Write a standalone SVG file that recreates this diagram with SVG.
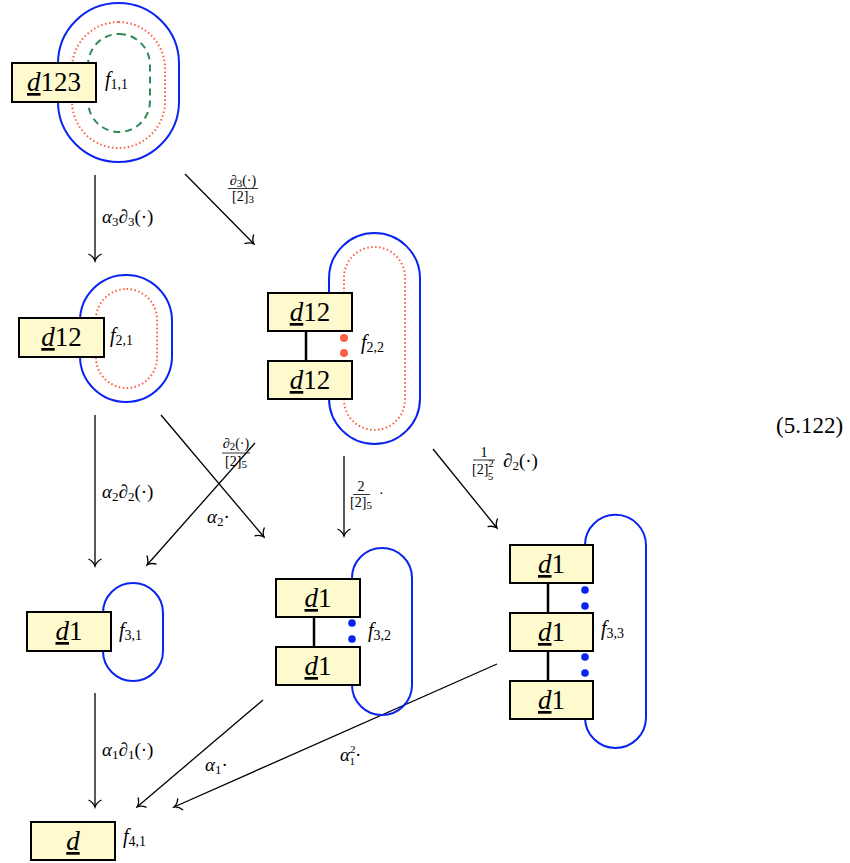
<svg xmlns="http://www.w3.org/2000/svg" width="850" height="863" viewBox="0 0 850 863">
<style>
text{font-family:"Liberation Serif","Times New Roman","DejaVu Serif",serif;fill:#000}
.box{fill:#fffacd;stroke:#000;stroke-width:2}
.bt{font-size:27px;text-anchor:middle}
.it{font-style:italic}
.ul{text-decoration:underline}
.blue{fill:none;stroke:#0a24f0;stroke-width:2}
.red{fill:none;stroke:#fa6046;stroke-width:2;stroke-dasharray:1.5 2.5}
.green{fill:none;stroke:#2e8b57;stroke-width:2;stroke-dasharray:7 5}
.lbl{font-size:20px}
.al{font-size:19px}
.fr{font-size:14px}
.sub{font-size:14px}
.fs{font-size:13px}
.fss{font-size:11px}
.arr{stroke:#000;stroke-width:1.3;fill:none;marker-end:url(#ah)}
.link{stroke:#000;stroke-width:2.5}
.rdot{fill:#fa6046}
.bdot{fill:#0a24f0}
</style>
<defs>
<marker id="ah" viewBox="-10 -8 12 16" refX="0" refY="0" markerWidth="12" markerHeight="16" orient="auto" markerUnits="userSpaceOnUse">
<path d="M-7,-6.5 C-5,-2.5 -2,-0.6 0,0 C-2,0.6 -5,2.5 -7,6.5" fill="none" stroke="#000" stroke-width="1.3"/>
</marker>
</defs>

<g id="connectors">
<line class="arr" x1="95" y1="175" x2="95" y2="261"/>
<line class="arr" x1="185" y1="174" x2="254" y2="244"/>
<line class="arr" x1="95" y1="415" x2="95" y2="566"/>
<line class="arr" x1="161" y1="415" x2="264" y2="537"/>
<line class="arr" x1="255" y1="443" x2="147" y2="565"/>
<line class="arr" x1="344" y1="456" x2="344" y2="536"/>
<line class="arr" x1="433" y1="449" x2="497" y2="528"/>
<line class="arr" x1="95" y1="693" x2="95" y2="807"/>
<line class="arr" x1="263" y1="700" x2="137" y2="807"/>
<line class="arr" x1="497" y1="664" x2="174" y2="807"/>
<text class="al" x="102" y="223"><tspan class="it">α</tspan><tspan class="fs" dy="3">3</tspan><tspan class="it" dy="-3">∂</tspan><tspan class="fs" dy="3">3</tspan><tspan dy="-3">(·)</tspan></text>
<g class="fr"><text x="243" y="185" text-anchor="middle"><tspan class="it">∂</tspan><tspan class="fss" dy="2">3</tspan><tspan dy="-2">(·)</tspan></text><line x1="228" y1="188.5" x2="258" y2="188.5" stroke="#000" stroke-width="0.8"/><text x="243" y="201" text-anchor="middle">[2]<tspan class="fss" dy="2">3</tspan></text></g>
<text class="al" x="102" y="498"><tspan class="it">α</tspan><tspan class="fs" dy="3">2</tspan><tspan class="it" dy="-3">∂</tspan><tspan class="fs" dy="3">2</tspan><tspan dy="-3">(·)</tspan></text>
<g class="fr"><text x="236" y="448" text-anchor="middle"><tspan class="it">∂</tspan><tspan class="fss" dy="2">2</tspan><tspan dy="-2">(·)</tspan></text><line x1="222" y1="453" x2="250" y2="453" stroke="#000" stroke-width="0.8"/><text x="236" y="466" text-anchor="middle">[2]<tspan class="fss" dy="2">5</tspan></text></g>
<text class="al" x="207" y="523"><tspan class="it">α</tspan><tspan class="fs" dy="3">2</tspan><tspan dy="-3">·</tspan></text>
<g class="fr"><text x="361" y="491" text-anchor="middle">2</text><line x1="353" y1="494.5" x2="370" y2="494.5" stroke="#000" stroke-width="0.8"/><text x="361" y="507" text-anchor="middle">[2]<tspan class="fss" dy="2">5</tspan></text><text x="379" y="498">·</text></g>
<g class="fr"><text x="484" y="457" text-anchor="middle">1</text><line x1="473" y1="460" x2="495" y2="460" stroke="#000" stroke-width="0.8"/><text x="472" y="474">[2]<tspan class="fss" dy="-7">2</tspan><tspan class="fss" dx="-6" dy="13">5</tspan></text></g>
<text class="al" x="503" y="467"><tspan class="it">∂</tspan><tspan class="fs" dy="3">2</tspan><tspan dy="-3">(·)</tspan></text>
<text class="al" x="102" y="756"><tspan class="it">α</tspan><tspan class="fs" dy="3">1</tspan><tspan class="it" dy="-3">∂</tspan><tspan class="fs" dy="3">1</tspan><tspan dy="-3">(·)</tspan></text>
<text class="al" x="205" y="771"><tspan class="it">α</tspan><tspan class="fs" dy="3">1</tspan><tspan dy="-3">·</tspan></text>
<text class="al" x="340" y="761"><tspan class="it">α</tspan><tspan class="fss" dy="-8">2</tspan><tspan class="fss" dx="-6" dy="12">1</tspan><tspan dy="-4">·</tspan></text>
</g>

<g id="f11">
<rect class="blue" x="58" y="3" width="121" height="159" rx="60.5"/>
<rect class="red" x="72" y="22" width="93" height="126" rx="46.5"/>
<rect class="green" x="88" y="34" width="62" height="98" rx="31"/>
<rect class="box" x="12" y="63" width="84" height="39"/>
<text class="bt" x="54" y="91"><tspan class="it ul">d</tspan>123</text>
<text class="lbl" x="105" y="86"><tspan class="it">f</tspan><tspan class="sub" dy="3">1,1</tspan></text>
</g>

<g id="f21">
<rect class="blue" x="80" y="275" width="92" height="127" rx="46"/>
<rect class="red" x="96" y="289" width="61" height="99" rx="30.5"/>
<rect class="box" x="19" y="318" width="85" height="39"/>
<text class="bt" x="61.5" y="346"><tspan class="it ul">d</tspan>12</text>
<text class="lbl" x="110" y="342"><tspan class="it">f</tspan><tspan class="sub" dy="3">2,1</tspan></text>
</g>

<g id="f22">
<path class="blue" d="M329,293 V278.5 A45.5,45.5 0 0 1 420,278.5 V398.5 A45.5,45.5 0 0 1 329,398.5 V399"/>
<path class="red" d="M344,293 V277.5 A30.5,30.5 0 0 1 405,277.5 V399.5 A30.5,30.5 0 0 1 344,399.5 V399"/>
<line class="link" x1="306" y1="331" x2="306" y2="361"/>
<rect class="box" x="268" y="293" width="84" height="38"/>
<rect class="box" x="268" y="361" width="84" height="38"/>
<text class="bt" x="310" y="321"><tspan class="it ul">d</tspan>12</text>
<text class="bt" x="310" y="389"><tspan class="it ul">d</tspan>12</text>
<circle class="rdot" cx="344" cy="338" r="4"/>
<circle class="rdot" cx="344" cy="353" r="4"/>
<text class="lbl" x="361" y="349"><tspan class="it">f</tspan><tspan class="sub" dy="3">2,2</tspan></text>
</g>

<g id="f31">
<rect class="blue" x="103" y="583" width="60" height="98" rx="30"/>
<rect class="box" x="27" y="612" width="84" height="39"/>
<text class="bt" x="69" y="640"><tspan class="it ul">d</tspan>1</text>
<text class="lbl" x="119" y="637"><tspan class="it">f</tspan><tspan class="sub" dy="3">3,1</tspan></text>
</g>

<g id="f32">
<path class="blue" d="M352,579 V578 A30,30 0 0 1 412,578 V685 A30,30 0 0 1 352,685"/>
<line class="link" x1="314" y1="617" x2="314" y2="647"/>
<rect class="box" x="276" y="579" width="84" height="38"/>
<rect class="box" x="276" y="647" width="84" height="38"/>
<text class="bt" x="318" y="607"><tspan class="it ul">d</tspan>1</text>
<text class="bt" x="318" y="675"><tspan class="it ul">d</tspan>1</text>
<circle class="bdot" cx="352" cy="623" r="3.8"/>
<circle class="bdot" cx="352" cy="639" r="3.8"/>
<text class="lbl" x="368" y="637"><tspan class="it">f</tspan><tspan class="sub" dy="3">3,2</tspan></text>
</g>

<g id="f33">
<path class="blue" d="M585,545 A30.5,30.5 0 0 1 646,545.5 V717.5 A30.5,30.5 0 0 1 585,717.5 V719"/>
<line class="link" x1="548" y1="583" x2="548" y2="613"/>
<line class="link" x1="548" y1="651" x2="548" y2="681"/>
<rect class="box" x="510" y="545" width="83" height="38"/>
<rect class="box" x="510" y="613" width="83" height="38"/>
<rect class="box" x="510" y="681" width="83" height="38"/>
<text class="bt" x="551.5" y="573"><tspan class="it ul">d</tspan>1</text>
<text class="bt" x="551.5" y="641"><tspan class="it ul">d</tspan>1</text>
<text class="bt" x="551.5" y="709"><tspan class="it ul">d</tspan>1</text>
<circle class="bdot" cx="585" cy="590" r="3.8"/>
<circle class="bdot" cx="585" cy="606" r="3.8"/>
<circle class="bdot" cx="585" cy="657" r="3.8"/>
<circle class="bdot" cx="585" cy="673" r="3.8"/>
<text class="lbl" x="601" y="635"><tspan class="it">f</tspan><tspan class="sub" dy="3">3,3</tspan></text>
</g>

<g id="f41">
<rect class="box" x="31" y="822" width="84" height="38"/>
<text class="bt" x="73" y="850"><tspan class="it ul">d</tspan></text>
<text class="lbl" x="123" y="843"><tspan class="it">f</tspan><tspan class="sub" dy="3">4,1</tspan></text>
</g>

<text id="eqno" x="776" y="433" font-size="23">(5.122)</text>
</svg>
